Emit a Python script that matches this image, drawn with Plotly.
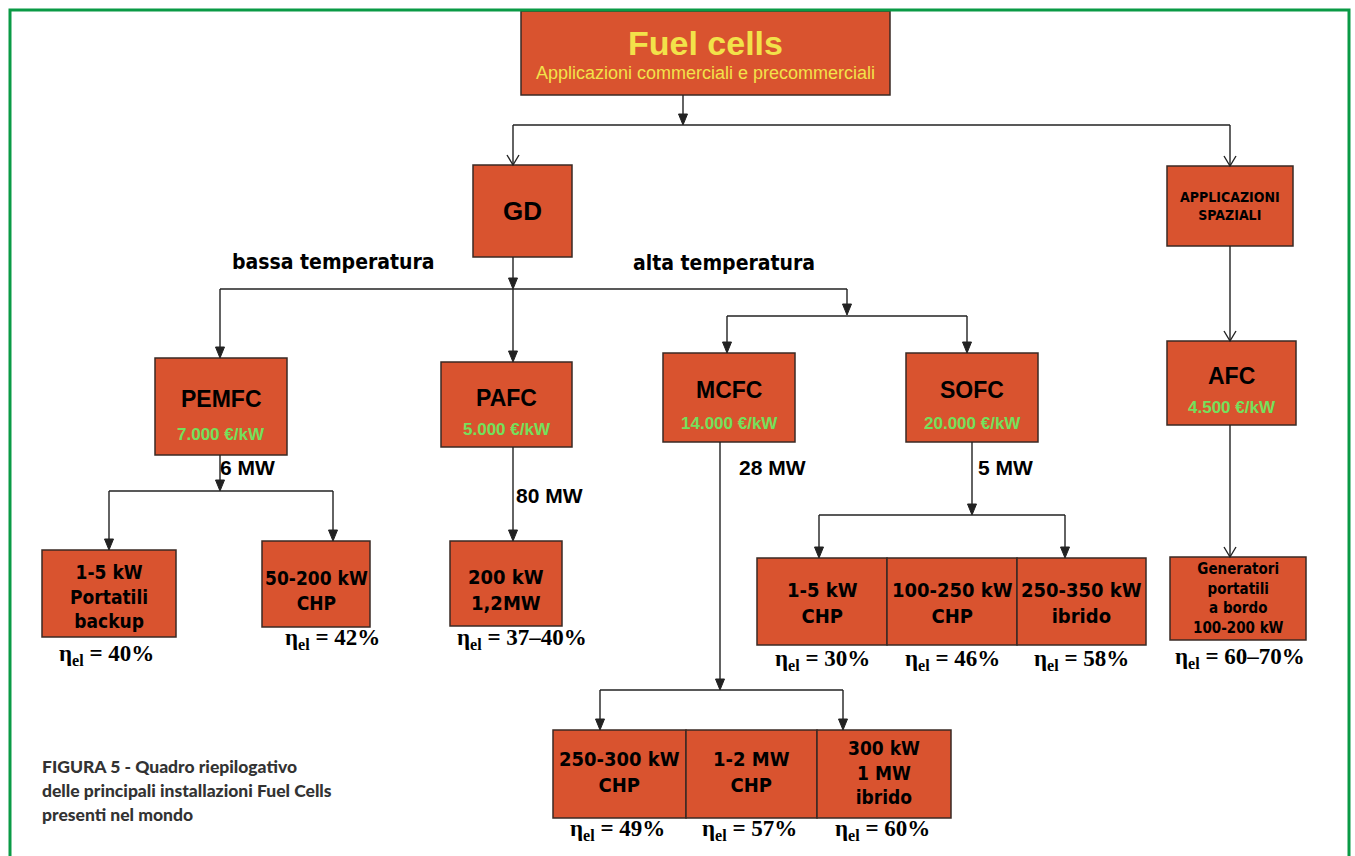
import plotly.graph_objects as go

# ---------------- data (texts / values) ----------------
title_text = "Fuel cells"
subtitle_text = "Applicazioni commerciali e precommerciali"
level1_labels = ["GD", "APPLICAZIONI<br>SPAZIALI"]
branch_labels = ["bassa temperatura", "alta temperatura"]
cell_types = ["PEMFC", "PAFC", "MCFC", "SOFC", "AFC"]
cell_costs = ["7.000 €/kW", "5.000 €/kW", "14.000 €/kW", "20.000 €/kW", "4.500 €/kW"]
installed_power = ["6 MW", "80 MW", "28 MW", "5 MW"]
pemfc_apps = ["1-5 kW<br>Portatili<br>backup", "50-200 kW<br>CHP"]
pemfc_eff = ["40%", "42%"]
pafc_apps = ["200 kW<br>1,2MW"]
pafc_eff = ["37–40%"]
mcfc_apps = ["250-300 kW<br>CHP", "1-2 MW<br>CHP", "300 kW<br>1 MW<br>ibrido"]
mcfc_eff = ["49%", "57%", "60%"]
sofc_apps = ["1-5 kW<br>CHP", "100-250 kW<br>CHP", "250-350 kW<br>ibrido"]
sofc_eff = ["30%", "46%", "58%"]
afc_apps = ["Generatori<br>portatili<br>a bordo<br>100-200 kW"]
afc_eff = ["60–70%"]
caption_lines = ["FIGURA 5 - Quadro riepilogativo",
                 "delle principali installazioni Fuel Cells",
                 "presenti nel mondo"]

# ---------------- layout geometry (pixel-like data coordinates) ----------------
W, H = 1355, 856
BOX_FILL = "#D9532F"
BOX_LINE = "#3a2a24"
LINE_C = "#222222"
GREEN = "#74E05C"
YELLOW = "#F2E24A"
NARROW = "Arial Narrow, Liberation Sans Narrow, DejaVu Sans Condensed, sans-serif"
BOLD = "Arial, Liberation Sans, sans-serif"
SERIF = "Times New Roman, Liberation Serif, serif"

shapes = []
annotations = []


def box(x0, y0, x1, y1):
    shapes.append(dict(type="rect", xref="x", yref="y", x0=x0, y0=y0, x1=x1, y1=y1,
                       fillcolor=BOX_FILL, line=dict(color=BOX_LINE, width=1.5), layer="below"))


def line(x0, y0, x1, y1):
    shapes.append(dict(type="line", xref="x", yref="y", x0=x0, y0=y0, x1=x1, y1=y1,
                       line=dict(color=LINE_C, width=1.4)))


def arrow(x, y0, y1, open_head=False):
    """vertical connector from y0 down to y1 with an arrowhead at y1"""
    if open_head:
        line(x, y0, x, y1)
        shapes.append(dict(type="path", xref="x", yref="y",
                           path=f"M {x-6} {y1-10} L {x} {y1} L {x+6} {y1-10}",
                           line=dict(color=LINE_C, width=1.4)))
    else:
        line(x, y0, x, y1 - 8)
        shapes.append(dict(type="path", xref="x", yref="y",
                           path=f"M {x-4.5} {y1-11} L {x+4.5} {y1-11} L {x} {y1} Z",
                           fillcolor=LINE_C, line=dict(color=LINE_C, width=1)))


def text(x, y, s, size, color="black", family=BOLD, bold=True, xanchor="center"):
    t = f"<b>{s}</b>" if bold else s
    annotations.append(dict(x=x, y=y, xref="x", yref="y", text=t, showarrow=False,
                            xanchor=xanchor, yanchor="middle",
                            font=dict(size=size, color=color, family=family)))


def eff(x, y, v):
    text(x, y, f"η<sub>el</sub> = {v}", 23, family=SERIF)


# green frame (left, top, right)
shapes.append(dict(type="path", xref="x", yref="y",
                   path=f"M 10 {H} L 10 10 L 1349 10 L 1349 {H}",
                   line=dict(color="#0A9A45", width=3)))

# top box
box(521, 11, 890, 95)
text(705, 43, title_text, 34, color=YELLOW)
text(705, 73, subtitle_text, 18, color=YELLOW, bold=False)

# level 1
arrow(683, 95, 125)
line(513, 125, 1230, 125)
arrow(513, 125, 165, open_head=True)
arrow(1230, 125, 166, open_head=True)
box(473, 165, 572, 257)
text(522, 211, level1_labels[0], 26)
box(1167, 166, 1293, 246)
text(1230, 206, level1_labels[1], 14, family=NARROW)

# temperature branches
text(333, 262, branch_labels[0], 21, family=NARROW)
text(724, 263, branch_labels[1], 21, family=NARROW)
arrow(513, 257, 289)
line(220, 289, 847, 289)
arrow(220, 289, 358)
arrow(513, 289, 362)
arrow(847, 289, 315)
line(727, 316, 967, 316)
arrow(727, 316, 353)
arrow(967, 316, 353)
arrow(1230, 246, 341, open_head=True)

# fuel cell type boxes
type_boxes = [(155, 358, 287, 455), (441, 362, 572, 447), (663, 353, 795, 442),
              (906, 353, 1038, 442), (1167, 341, 1296, 425)]
for (x0, y0, x1, y1), name, cost in zip(type_boxes, cell_types, cell_costs):
    box(x0, y0, x1, y1)
    cx = (x0 + x1) / 2
    text(cx, y0 + 0.42 * (y1 - y0), name, 23)
    text(cx, y0 + 0.79 * (y1 - y0), cost, 17, color=GREEN, bold=True)

# installed power labels
power_pos = [(247, 467), (549, 495), (772, 467), (1005, 467)]
for (x, y), p in zip(power_pos, installed_power):
    text(x, y, p, 21)

# PEMFC applications
arrow(220, 455, 491)
line(109, 491, 333, 491)
arrow(109, 491, 550)
arrow(333, 491, 541)
box(42, 550, 176, 637)
text(109, 596, pemfc_apps[0], 19, family=NARROW)
eff(106, 655, pemfc_eff[0])
box(262, 541, 370, 627)
text(316, 590, pemfc_apps[1], 19, family=NARROW)
eff(332, 639, pemfc_eff[1])

# PAFC applications
arrow(513, 447, 541)
box(450, 541, 562, 626)
text(506, 590, pafc_apps[0], 20, family=NARROW)
eff(522, 639, pafc_eff[0])

# MCFC applications
arrow(720, 442, 690)
line(600, 690, 843, 690)
arrow(600, 690, 730)
arrow(843, 690, 730)
mcfc_x = [553, 686, 817, 951]
for i, (lab, e) in enumerate(zip(mcfc_apps, mcfc_eff)):
    box(mcfc_x[i], 730, mcfc_x[i + 1], 818)
    cx = (mcfc_x[i] + mcfc_x[i + 1]) / 2
    text(cx, 772, lab, 20 if i < 2 else 19, family=NARROW)
    eff(cx - 2, 830, e)

# SOFC applications
arrow(972, 442, 515)
line(819, 515, 1065, 515)
arrow(819, 515, 558)
arrow(1065, 515, 558)
sofc_x = [757, 887, 1017, 1146]
for i, (lab, e) in enumerate(zip(sofc_apps, sofc_eff)):
    box(sofc_x[i], 558, sofc_x[i + 1], 645)
    cx = (sofc_x[i] + sofc_x[i + 1]) / 2
    text(cx, 603, lab, 20, family=NARROW)
    eff(cx, 660, e)

# AFC applications
arrow(1230, 425, 557, open_head=True)
box(1170, 557, 1306, 640)
text(1238, 598, afc_apps[0], 15, family=NARROW)
eff(1240, 658, afc_eff[0])

# caption
for i, c in enumerate(caption_lines):
    annotations.append(dict(x=40, y=766 + 24 * i, xref="x", yref="y", text=c,
                            showarrow=False, xanchor="left", yanchor="middle",
                            font=dict(size=17.5, color="#333333", weight=900,
                                      family="Lato, Open Sans, sans-serif")))

fig = go.Figure()
fig.update_layout(
    width=W, height=H, margin=dict(l=0, r=0, t=0, b=0),
    paper_bgcolor="white", plot_bgcolor="white",
    xaxis=dict(range=[0, W], visible=False, fixedrange=True),
    yaxis=dict(range=[H, 0], visible=False, fixedrange=True),
    shapes=shapes, annotations=annotations, showlegend=False,
)
fig.write_html("out.html", post_script="document.body.style.margin='0';",
               config={"displayModeBar": False})
